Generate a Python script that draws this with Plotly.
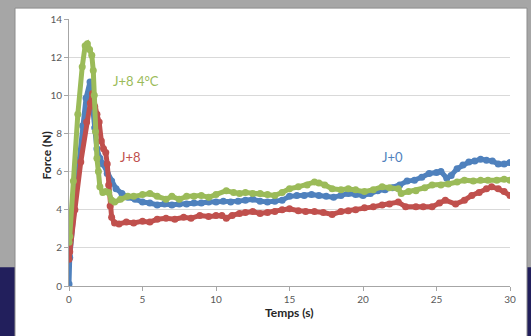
import plotly.graph_objects as go

# J+0 (blue)
x_j0 = [0, 0.05, 0.5, 0.93, 1.16, 1.43, 1.6, 1.75, 1.9, 2.1, 2.3, 2.6, 2.9, 3.2, 3.6, 4.0, 4.5, 5.0, 5.5,
        6.0, 6.5, 7.0, 7.5, 8.0, 8.5, 9.0, 9.5, 10, 10.5, 11, 11.5, 12, 12.5, 13, 13.5, 14, 14.5, 15,
        15.5, 16, 16.5, 17, 17.5, 18, 18.5, 19, 19.5, 20, 20.5, 21, 21.5, 22, 22.5, 23, 23.5, 24, 24.5,
        25, 25.3, 25.7, 26, 26.4, 26.8, 27.2, 27.6, 28, 28.4, 28.8, 29.2, 29.6, 30]
y_j0 = [0.1, 1.5, 5.2, 8.4, 9.86, 10.7, 9.5, 8.3, 7.2, 6.7, 6.4, 5.9, 5.5, 5.1, 4.85, 4.65, 4.55, 4.4,
        4.35, 4.25, 4.3, 4.25, 4.3, 4.3, 4.35, 4.35, 4.4, 4.4, 4.45, 4.4, 4.45, 4.5, 4.55, 4.45, 4.4,
        4.45, 4.5, 4.7, 4.75, 4.75, 4.8, 4.75, 4.7, 4.65, 4.75, 4.85, 4.8, 4.75, 4.85, 5.0, 5.05, 5.15,
        5.3, 5.5, 5.55, 5.7, 5.9, 5.95, 6.0, 5.65, 5.8, 6.15, 6.35, 6.5, 6.55, 6.65, 6.6, 6.55, 6.4,
        6.4, 6.47]

# J+8 (red)
x_j8 = [0, 0.05, 0.4, 0.8, 1.2, 1.45, 1.6, 1.75, 1.9, 2.05, 2.2, 2.35, 2.5, 2.6, 2.7, 2.8, 2.9, 3.1,
        3.4, 3.9, 4.4, 5.0, 5.5, 6.0, 6.6, 7.2, 7.8, 8.3, 8.9, 9.5, 10, 10.4, 10.7, 11.1, 11.6, 12,
        12.5, 13, 13.5, 14, 14.5, 15, 15.6, 16.1, 16.7, 17.3, 17.9, 18.5, 19, 19.5, 20.1, 20.7, 21.3,
        21.8, 22.4, 22.9, 23.6, 24.1, 24.7, 25.2, 25.6, 26.3, 26.9, 27.4, 27.9, 28.4, 28.75, 29.2,
        29.6, 30]
y_j8 = [1.4, 1.8, 4.0, 6.5, 8.6, 9.6, 10.1, 9.4, 9.0, 8.6, 7.6, 7.2, 7.0, 6.4, 5.3, 4.2, 3.6, 3.3,
        3.25, 3.35, 3.3, 3.4, 3.35, 3.5, 3.55, 3.5, 3.6, 3.55, 3.7, 3.65, 3.7, 3.7, 3.55, 3.7, 3.8,
        3.85, 3.9, 3.8, 3.85, 3.9, 4.0, 4.05, 3.95, 3.9, 3.9, 3.85, 3.75, 3.9, 3.95, 4.0, 4.1, 4.15,
        4.25, 4.3, 4.4, 4.15, 4.15, 4.15, 4.15, 4.35, 4.5, 4.3, 4.5, 4.75, 4.9, 5.1, 5.2, 5.1, 4.95,
        4.75]

# J+8 4°C (green)
x_j84 = [0, 0.05, 0.3, 0.6, 0.9, 1.1, 1.25, 1.4, 1.55, 1.65, 1.72, 1.8, 1.9, 2.0, 2.1, 2.3, 2.5, 2.7,
         2.9, 3.1, 3.5, 4.0, 4.4, 5.0, 5.5, 6.0, 6.6, 7.0, 7.5, 8.0, 8.5, 9.0, 9.5, 10, 10.7, 11.2,
         11.6, 12, 12.5, 13, 13.5, 14, 14.5, 15, 15.6, 16.2, 16.7, 17.0, 17.4, 17.9, 18.5, 19, 19.5,
         20.1, 20.7, 21.3, 21.8, 22.4, 22.6, 23.1, 23.6, 24.2, 24.7, 25.3, 25.8, 26.4, 26.9, 27.5,
         28, 28.5, 29.1, 29.6, 30]
y_j84 = [2.3, 2.6, 5.5, 9.0, 11.5, 12.6, 12.7, 12.4, 12.1, 11.3, 10, 8.1, 6.7, 6.0, 5.2, 4.9, 4.95,
         4.9, 4.5, 4.4, 4.55, 4.7, 4.7, 4.8, 4.85, 4.7, 4.55, 4.7, 4.55, 4.7, 4.7, 4.75, 4.65, 4.8,
         5.0, 4.9, 4.85, 4.9, 4.85, 4.85, 4.8, 4.75, 4.9, 5.1, 5.2, 5.3, 5.45, 5.4, 5.3, 5.1, 5.05,
         5.1, 5.05, 4.95, 5.05, 5.2, 5.15, 5.1, 4.85, 4.95, 5.0, 5.15, 5.3, 5.3, 5.35, 5.45, 5.55,
         5.5, 5.55, 5.55, 5.55, 5.6, 5.55]

series = [
    ("J+0", x_j0, y_j0, "#4F81BD"),
    ("J+8", x_j8, y_j8, "#C0504D"),
    ("J+8 4°C", x_j84, y_j84, "#9BBB59"),
]

x_ticks = [0, 5, 10, 15, 20, 25, 30]
y_ticks = [0, 2, 4, 6, 8, 10, 12, 14]

labels = [
    ("J+8 4°C", 4.56, 10.73, "#9BBB59"),
    ("J+8", 4.15, 6.77, "#C0504D"),
    ("J+0", 22.0, 6.77, "#4F81BD"),
]

FONT = "Lato, 'Open Sans', sans-serif"

fig = go.Figure()
for name, xs, ys, col in series:
    fig.add_trace(go.Scatter(
        x=xs, y=ys, name=name, mode="lines+markers",
        line=dict(color=col, width=5),
        marker=dict(color=col, size=7),
        showlegend=False,
    ))

L, R, T, B = 69, 21, 17, 50
W, H = 531, 336
pw, ph = W - L - R, H - T - B

def px(xp):
    return (xp - L) / pw

def py(yp):
    return (H - B - yp) / ph

shapes = [
    dict(type="rect", xref="paper", yref="paper", x0=px(-10), x1=px(W + 10), y0=py(H + 10), y1=py(267),
         fillcolor="#221F5C", line=dict(width=0), layer="below"),
    dict(type="rect", xref="paper", yref="paper", x0=px(15), x1=px(527), y0=py(H + 10), y1=py(6),
         fillcolor="white", line=dict(color="#8c8c8c", width=1), layer="below"),
]

annotations = []
for txt, ax, ay, col in labels:
    annotations.append(dict(text=txt, x=ax, y=ay, xref="x", yref="y", showarrow=False,
                            font=dict(family=FONT, size=13, color=col)))
annotations.append(dict(text="<b>Force (N)</b>", x=px(37), y=py(155), xref="paper", yref="paper",
                        showarrow=False, textangle=-90, font=dict(family=FONT, size=12, color="#262626")))
annotations.append(dict(text="<b>Temps (s)</b>", x=px(289), y=py(321), xref="paper", yref="paper",
                        showarrow=False, borderpad=0, font=dict(family=FONT, size=12, color="#262626")))

fig.update_layout(
    width=W, height=H,
    margin=dict(l=L, r=R, t=T, b=B),
    paper_bgcolor="#A6A6A6",
    plot_bgcolor="rgba(0,0,0,0)",
    shapes=shapes,
    annotations=annotations,
    font=dict(family=FONT, size=10, color="#595959"),
    xaxis=dict(range=[0, 30], tickvals=x_ticks, showgrid=False, zeroline=False,
               showline=True, linecolor="#A6A6A6", linewidth=1,
               ticks="outside", ticklen=4, tickcolor="#A6A6A6",
               tickfont=dict(family=FONT, size=10, color="#595959")),
    yaxis=dict(range=[0, 14], tickvals=y_ticks, showgrid=True, gridcolor="#D9D9D9", gridwidth=1,
               zeroline=False, showline=True, linecolor="#A6A6A6", linewidth=1,
               ticks="outside", ticklen=4, tickcolor="#A6A6A6",
               tickfont=dict(family=FONT, size=10, color="#595959")),
)

fig.write_html("out.html", config={"displayModeBar": False},
               post_script="document.body.style.margin='0';document.body.style.padding='0';"
                           "document.documentElement.style.overflow='hidden';")
